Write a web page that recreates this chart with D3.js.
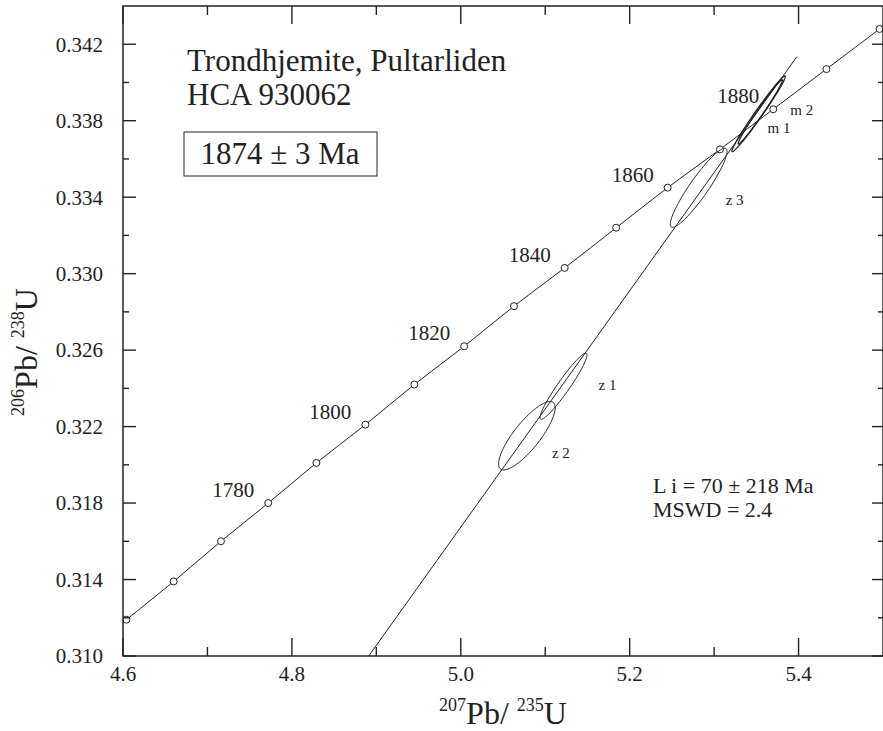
<!DOCTYPE html>
<html>
<head>
<meta charset="utf-8">
<script src="https://cdn.jsdelivr.net/npm/d3@7"></script>
<style>
  body { margin: 0; background: #fff; }
  svg text { font-family: "Liberation Serif", "DejaVu Serif", serif; fill: #222; }
</style>
</head>
<body>
<script>

// concordia ticks (Ma) and their ratios
var ages       = [1750, 1760, 1770, 1780, 1790, 1800, 1810, 1820, 1830, 1840, 1850, 1860, 1870, 1880, 1890, 1900];
var concordiaX = [4.604, 4.660, 4.716, 4.772, 4.829, 4.887, 4.945, 5.004, 5.063, 5.123, 5.184, 5.245, 5.307, 5.370, 5.433, 5.496];
var concordiaY = [0.3119, 0.3139, 0.3160, 0.3180, 0.3201, 0.3221, 0.3242, 0.3262, 0.3283, 0.3303, 0.3324, 0.3345, 0.3365, 0.3386, 0.3407, 0.3428];
var ageLabels  = [1780, 1800, 1820, 1840, 1860, 1880];

// analysed fractions (error ellipses)
var spotNames = ["z 1", "z 2", "z 3", "m 1", "m 2"];
var spotX     = [5.1217, 5.0783, 5.2817, 5.3527, 5.3547];
var spotY     = [0.32411, 0.32152, 0.33449, 0.33836, 0.33846];
var spotSx    = [0.0278, 0.0335, 0.0336, 0.0316, 0.0262];
var spotSy    = [0.00173, 0.00179, 0.00207, 0.00198, 0.00168];
var spotRho   = [0.95, 0.82, 0.92, 0.985, 0.985];

// discordia through the upper (1874 Ma) and lower (70 Ma) intercepts
var discordiaX = [4.891, 5.398];
var discordiaY = [0.310, 0.34135];

var xTicks = [4.6, 4.8, 5.0, 5.2, 5.4];
var yTicks = [0.310, 0.314, 0.318, 0.322, 0.326, 0.330, 0.334, 0.338, 0.342];

var width = 883,
    height = 731,
    margin = { top: 6, right: 0, bottom: 75, left: 123 },
    w = width - margin.left - margin.right,
    h = height - margin.top - margin.bottom;

var x = d3.scaleLinear().domain([4.6, 5.5]).range([0, w]);
var y = d3.scaleLinear().domain([0.310, 0.344]).range([h, 0]);

var svg = d3.select("body").append("svg")
    .attr("width", width)
    .attr("height", height)
    .attr("font-family", "'Liberation Serif', 'DejaVu Serif', serif");

var g = svg.append("g")
    .attr("transform", "translate(" + margin.left + "," + margin.top + ")");

g.append("clipPath").attr("id", "plotclip")
  .append("rect").attr("width", w).attr("height", h);

var plot = g.append("g").attr("clip-path", "url(#plotclip)");

// ticks, all pointing inward
var xMinor = d3.range(4.7, 5.5, 0.2);
var yMinor = d3.range(0.312, 0.344, 0.004);

function tickLines(sel, vals, isX, len, side) {
    sel.selectAll(null)
        .data(vals)
        .enter().append("line")
            .attr("x1", function(d) { return isX ? x(d) : (side ? w : 0); })
            .attr("x2", function(d) { return isX ? x(d) : (side ? w - len : len); })
            .attr("y1", function(d) { return isX ? (side ? h : 0) : y(d); })
            .attr("y2", function(d) { return isX ? (side ? h - len : len) : y(d); })
            .attr("stroke", "#222")
            .attr("stroke-width", 1.4);
}

var axes = g.append("g");
tickLines(axes, xTicks, true, 18, 1);
tickLines(axes, xTicks, true, 18, 0);
tickLines(axes, xMinor, true, 9, 1);
tickLines(axes, xMinor, true, 9, 0);
tickLines(axes, yTicks, false, 13, 0);
tickLines(axes, yTicks, false, 11, 1);
tickLines(axes, yMinor, false, 6, 0);
tickLines(axes, yMinor, false, 5, 1);

axes.append("rect")
    .attr("width", w)
    .attr("height", h)
    .attr("fill", "none")
    .attr("stroke", "#222")
    .attr("stroke-width", 1.5);

axes.selectAll(".xl")
    .data(xTicks)
    .enter().append("text")
        .attr("x", function(d) { return x(d); })
        .attr("y", h + 25)
        .attr("text-anchor", "middle")
        .style("font-size", "21px")
        .text(d3.format(".1f"));

axes.selectAll(".yl")
    .data(yTicks)
    .enter().append("text")
        .attr("x", -20)
        .attr("y", function(d) { return y(d); })
        .attr("dy", "0.35em")
        .attr("text-anchor", "end")
        .style("font-size", "21px")
        .text(d3.format(".3f"));

// concordia curve with age markers
var pts = ages.map(function(a, i) { return { age: a, x: concordiaX[i], y: concordiaY[i] }; });

plot.append("path")
    .datum(pts)
    .attr("fill", "none")
    .attr("stroke", "#222")
    .attr("stroke-width", 1)
    .attr("d", d3.line().curve(d3.curveCatmullRom)
        .x(function(d) { return x(d.x); })
        .y(function(d) { return y(d.y); }));

plot.selectAll(".age")
    .data(pts)
    .enter().append("circle")
        .attr("cx", function(d) { return x(d.x); })
        .attr("cy", function(d) { return y(d.y); })
        .attr("r", 3.5)
        .attr("fill", "#fff")
        .attr("stroke", "#222")
        .attr("stroke-width", 1);

g.selectAll(".agel")
    .data(pts.filter(function(d) { return ageLabels.indexOf(d.age) > -1; }))
    .enter().append("text")
        .attr("x", function(d) { return x(d.x) - 35; })
        .attr("y", function(d) { return y(d.y) - 6; })
        .attr("text-anchor", "middle")
        .style("font-size", "21px")
        .text(function(d) { return d.age; });

// discordia
plot.append("line")
    .attr("x1", x(discordiaX[0])).attr("y1", y(discordiaY[0]))
    .attr("x2", x(discordiaX[1])).attr("y2", y(discordiaY[1]))
    .attr("stroke", "#222")
    .attr("stroke-width", 1);

// error ellipses
function ellipse(i) {
    var r = spotRho[i], q = Math.sqrt(1 - r * r);
    return d3.range(0, 2 * Math.PI + 0.01, Math.PI / 60).map(function(t) {
        return [x(spotX[i] + spotSx[i] * Math.cos(t)),
                y(spotY[i] + spotSy[i] * (r * Math.cos(t) + q * Math.sin(t)))];
    });
}

plot.selectAll(".spot")
    .data(spotNames)
    .enter().append("path")
        .attr("fill", "none")
        .attr("stroke", "#222")
        .attr("stroke-width", function(d, i) { return i > 2 ? 1.3 : 1; })
        .attr("d", function(d, i) { return d3.line()(ellipse(i)) + "Z"; });

var labelOff = { "z 1": [35, 4], "z 2": [25, 22], "z 3": [27, 17], "m 1": [9, 19], "m 2": [30, 3] };

g.selectAll(".spotl")
    .data(spotNames)
    .enter().append("text")
        .attr("x", function(d, i) { return x(spotX[i]) + labelOff[d][0]; })
        .attr("y", function(d, i) { return y(spotY[i]) + labelOff[d][1]; })
        .style("font-size", "15px")
        .text(function(d) { return d; });

// annotations
var note = g.append("g").style("font-size", "31px");
note.append("text").attr("x", 64).attr("y", 65).text("Trondhjemite, Pultarliden");
note.append("text").attr("x", 64).attr("y", 99).text("HCA 930062");

var ageBox = g.append("g");
ageBox.append("rect")
    .attr("x", 61).attr("y", 126)
    .attr("width", 193).attr("height", 44)
    .attr("fill", "none")
    .attr("stroke", "#222")
    .attr("stroke-width", 1);
ageBox.append("text")
    .attr("x", 157).attr("y", 158)
    .attr("text-anchor", "middle")
    .style("font-size", "31px")
    .text("1874 \u00b1 3 Ma");

var stats = g.append("g").style("font-size", "22px");
stats.append("text").attr("x", 530).attr("y", 487).text("L i = 70 \u00b1 218 Ma");
stats.append("text").attr("x", 530).attr("y", 511).text("MSWD = 2.4");

// axis titles
var xt = svg.append("text")
    .attr("x", margin.left + w / 2)
    .attr("y", 724)
    .attr("text-anchor", "middle")
    .style("font-size", "32px");
xt.append("tspan").style("font-size", "18px").attr("dy", "-13").text("207");
xt.append("tspan").attr("dy", "13").text("Pb/ ");
xt.append("tspan").style("font-size", "18px").attr("dy", "-13").text("235");
xt.append("tspan").attr("dy", "13").text("U");

var yt = svg.append("text")
    .attr("transform", "translate(37,352) rotate(-90)")
    .attr("text-anchor", "middle")
    .style("font-size", "32px");
yt.append("tspan").style("font-size", "18px").attr("dy", "-13").text("206");
yt.append("tspan").attr("dy", "13").text("Pb/ ");
yt.append("tspan").style("font-size", "18px").attr("dy", "-13").text("238");
yt.append("tspan").attr("dy", "13").text("U");

</script>
</body>
</html>
